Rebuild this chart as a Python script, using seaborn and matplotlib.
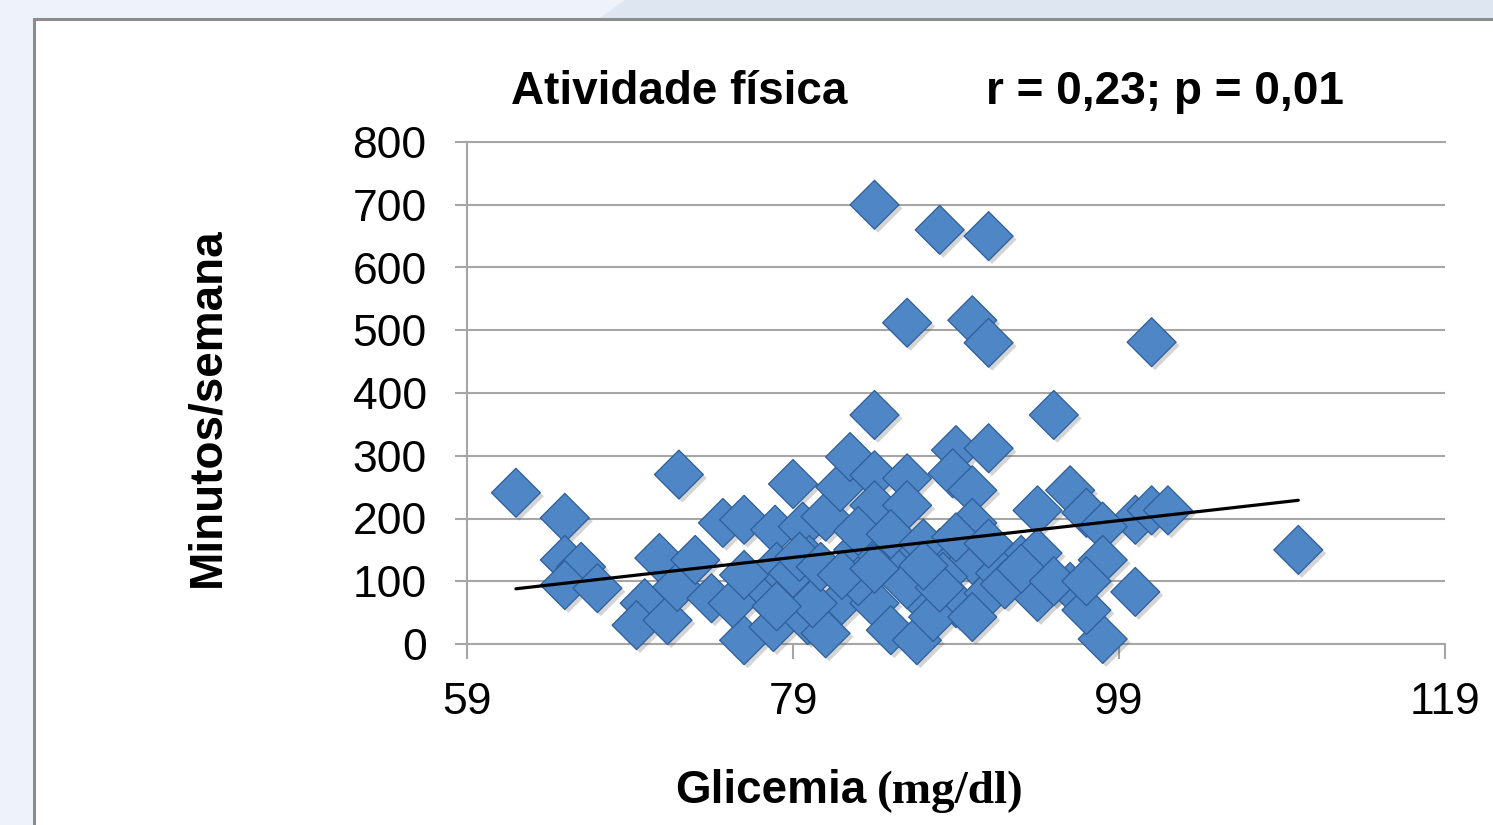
import matplotlib
matplotlib.use("Agg")
import matplotlib.pyplot as plt
import matplotlib.patheffects as pe
from matplotlib.patches import Rectangle, Polygon
import seaborn as sns
import pandas as pd

# ---- data ----
glicemia = [84, 88, 91, 86, 90, 91, 101, 84, 95, 62, 72, 65, 79, 110, 98, 100,
            89, 91, 65, 66, 65, 67, 70.8, 69.9, 69.4, 71.3, 71.9, 73, 74, 74.7, 76,
            77.9, 79.6, 81, 81.9, 82.5, 77, 76, 77.8, 79.9, 81, 82, 78, 80, 79, 75.3,
            80.2, 84, 86, 88.8, 90, 84, 86, 90, 94, 96, 97, 100, 101, 102, 98, 83, 85,
            88, 90, 93, 94, 98, 79.4, 80.7, 84, 87, 89, 91, 94, 96, 97, 85, 86.6, 87.6,
            90, 85.4, 88.2, 91.7, 83, 86, 88, 92, 83, 85, 87, 89, 91, 93, 95, 76, 78,
            82, 84, 87, 97]
minutos = [700, 660, 650, 512, 516, 480, 481, 365, 365, 241, 270, 201, 255, 150, 8, 83,
           309, 312, 134, 123, 94, 89, 137, 65, 30, 38, 91, 134, 73, 193, 198,
           182, 187, 203, 250, 298, 86, 6, 27, 38, 17, 70, 123, 134, 113, 65,
           65, 269, 264, 272, 245, 221, 221, 193, 213, 245, 209, 198, 213, 213, 187, 150, 150,
           145, 134, 134, 145, 134, 139, 123, 65, 70, 65, 81, 75, 91, 54, 22, 6, 43,
           43, 113, 107, 113, 100, 95, 90, 95, 180, 175, 160, 170, 160, 120, 100, 110, 60,
           110, 120, 125, 100]
trend_x = [62, 110]
trend_y = [88, 229]

x_ticks = [59, 79, 99, 119]
y_ticks = [0, 100, 200, 300, 400, 500, 600, 700, 800]

title_left = "Atividade física"
title_right = "r = 0,23; p = 0,01"
y_label = "Minutos/semana"
x_label_main = "Glicemia"
x_label_unit = "(mg/dl)"

df = pd.DataFrame({"glicemia": glicemia, "minutos": minutos})

sns.set_theme(style="white")
plt.rcParams["font.family"] = ["Liberation Sans", "DejaVu Sans"]

W, H = 1493, 825
fig = plt.figure(figsize=(W / 100, H / 100), dpi=100)
fig.patch.set_facecolor("#EEF2FA")

# background decorations
fig.patches.append(Polygon([(600 / W, 1 - 18 / H), (625 / W, 1.0), (1.0, 1.0), (1.0, 1 - 18 / H)],
                           closed=True, transform=fig.transFigure, facecolor="#DEE6F2",
                           edgecolor="none", zorder=-3))
fig.patches.append(Rectangle((34 / W, -0.05), 1.1, 1 - 19 / H + 0.05, transform=fig.transFigure,
                             facecolor="white", edgecolor="#8C8C8C", linewidth=2.2, zorder=-2))

ax = fig.add_axes([467 / W, 1 - 644 / H, (1445 - 467) / W, (644 - 142) / H])
ax.set_facecolor("none")
ax.set_zorder(1)

ax.set_xlim(59, 119)
ax.set_ylim(0, 800)
ax.set_xticks(x_ticks)
ax.set_yticks(y_ticks)
ax.yaxis.grid(True, color="#A6A6A6", linewidth=1.5)
ax.xaxis.grid(False)
ax.set_axisbelow(True)

for side in ["left", "bottom", "top"]:
    ax.spines[side].set_visible(True)
    ax.spines[side].set_color("#A6A6A6")
    ax.spines[side].set_linewidth(1.5)
ax.spines["right"].set_visible(False)

ax.tick_params(axis="y", direction="out", length=9, width=1.5, color="#A6A6A6",
               pad=20, labelsize=32, labelcolor="black", left=True)
ax.tick_params(axis="x", direction="out", length=11, width=1.5, color="#A6A6A6",
               pad=16, labelsize=32, labelcolor="black", bottom=True)

sns.scatterplot(data=df, x="glicemia", y="minutos", marker="D", s=620,
                color="#4F86C6", edgecolor="#2E5E98", linewidth=0.9, ax=ax,
                clip_on=False, zorder=3, legend=False)
for coll in ax.collections:
    coll.set_path_effects([pe.SimplePatchShadow(offset=(2.5, -2.5), alpha=0.25, shadow_rgbFace="#555555"),
                           pe.Normal()])

sns.lineplot(x=trend_x, y=trend_y, color="black", linewidth=2.3, ax=ax, zorder=4)

ax.set_xlabel("")
ax.set_ylabel(y_label, fontsize=33, fontweight="bold", color="black")
ax.yaxis.label.set_va("center")
ax.yaxis.set_label_coords((207 - 467) / (1445 - 467), (644 - 407) / (644 - 142))

fig.text(679 / W, 1 - 104 / H, title_left, ha="center", va="baseline",
         fontsize=33, fontweight="bold", color="black")
fig.text(1165 / W, 1 - 104 / H, title_right, ha="center", va="baseline",
         fontsize=33, fontweight="bold", color="black")
fig.text(866 / W, 1 - 803 / H, x_label_main, ha="right", va="baseline",
         fontsize=33, fontweight="bold", color="black")
fig.text(877 / W, 1 - 803 / H, x_label_unit, ha="left", va="baseline",
         fontsize=34, fontweight="bold", color="black",
         family=["Liberation Serif", "DejaVu Serif"])

fig.savefig("out.png", dpi=100)
